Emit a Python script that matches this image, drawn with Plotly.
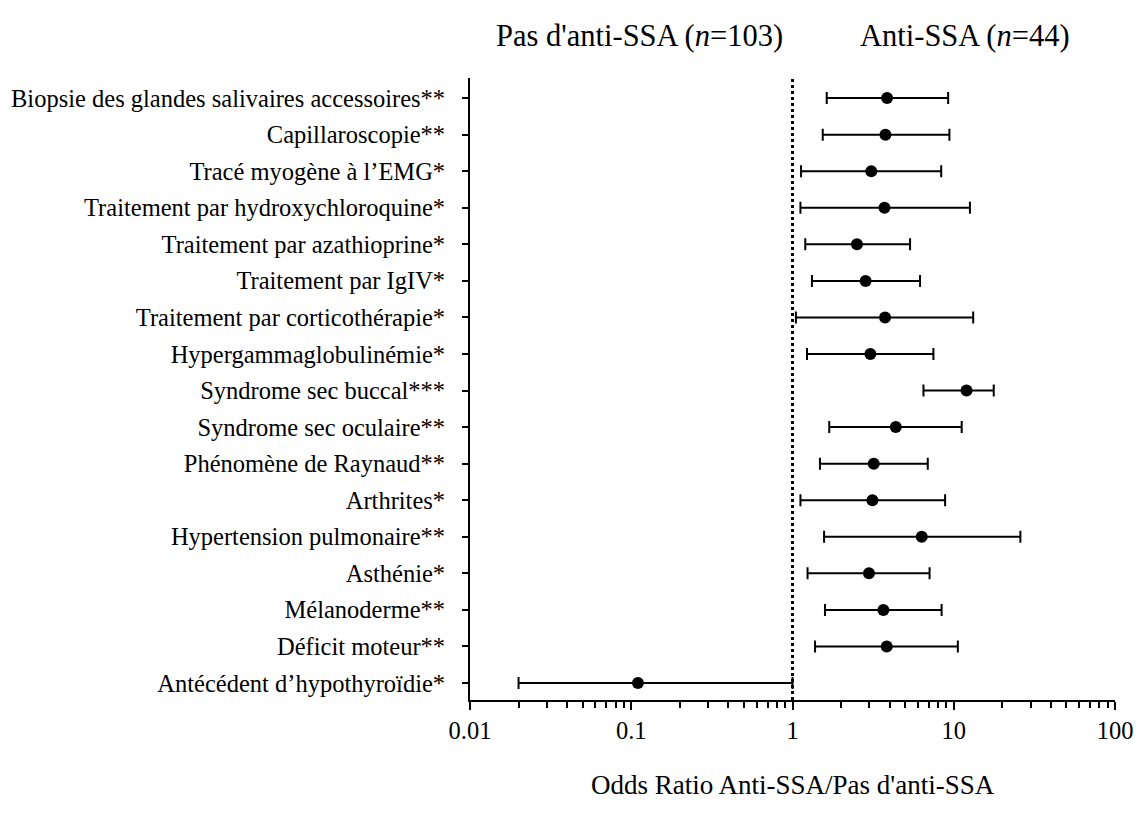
import plotly.graph_objects as go

# données (odds ratio et IC 95 %)
labels = [
    "Biopsie des glandes salivaires accessoires**",
    "Capillaroscopie**",
    "Tracé myogène à l’EMG*",
    "Traitement par hydroxychloroquine*",
    "Traitement par azathioprine*",
    "Traitement par IgIV*",
    "Traitement par corticothérapie*",
    "Hypergammaglobulinémie*",
    "Syndrome sec buccal***",
    "Syndrome sec oculaire**",
    "Phénomène de Raynaud**",
    "Arthrites*",
    "Hypertension pulmonaire**",
    "Asthénie*",
    "Mélanoderme**",
    "Déficit moteur**",
    "Antécédent d’hypothyroïdie*",
]
odds = [3.86, 3.77, 3.08, 3.72, 2.51, 2.84, 3.75, 3.04, 12.0, 4.37, 3.19, 3.13, 6.33, 2.98, 3.66, 3.84, 0.11]
ci_low = [1.63, 1.54, 1.13, 1.12, 1.20, 1.32, 1.05, 1.23, 6.49, 1.69, 1.48, 1.12, 1.57, 1.24, 1.59, 1.38, 0.02]
ci_high = [9.23, 9.40, 8.36, 12.6, 5.36, 6.18, 13.2, 7.48, 17.7, 11.2, 6.90, 8.84, 25.9, 7.08, 8.41, 10.6, 1.0]

tick_vals = [0.01, 0.1, 1, 10, 100]
tick_text = ["0.01", "0.1", "1", "10", "100"]

FONT = "Liberation Serif, Times New Roman, serif"

n = len(labels)
ypos = list(range(n, 0, -1))

fig = go.Figure()
fig.add_trace(go.Scatter(
    x=odds, y=ypos, mode="markers",
    marker=dict(color="black", size=12),
    error_x=dict(type="data", symmetric=False,
                 array=[h - o for h, o in zip(ci_high, odds)],
                 arrayminus=[o - l for o, l in zip(odds, ci_low)],
                 color="black", thickness=2, width=6),
    showlegend=False,
))

# ligne verticale OR = 1
fig.add_shape(type="line", x0=1, x1=1, xref="x", y0=0, y1=1, yref="paper",
              line=dict(color="black", width=3, dash="dot"))

# la page a une marge de 8 px : figure un peu plus petite que la fenêtre
fig.update_layout(
    width=1135, height=799,
    margin=dict(l=462, r=28, t=70, b=107),
    plot_bgcolor="white", paper_bgcolor="white",
    font=dict(family=FONT, size=24.5, color="black"),
    xaxis=dict(type="log", range=[-2, 2], tickvals=tick_vals, ticktext=tick_text,
               automargin=False,
               showgrid=False, zeroline=False, showline=True, linecolor="black", linewidth=2,
               ticks="outside", ticklen=8, tickwidth=1.5, tickcolor="black",
               tickfont=dict(size=24.5), ticklabelstandoff=0,
               minor=dict(ticks="outside", ticklen=6, tickwidth=1.5, tickcolor="black",
                          dtick="D1", showgrid=False)),
    yaxis=dict(range=[0.535, n + 0.55], tickvals=ypos, ticktext=labels,
               automargin=False,
               showgrid=False, zeroline=False, showline=True, linecolor="black", linewidth=2,
               ticks="outside", ticklen=6, tickwidth=1.5, tickcolor="black",
               ticklabelstandoff=12, tickfont=dict(size=24.5)),
)

fig.add_annotation(x=0.263, y=1, xref="paper", yref="paper", xanchor="center", yanchor="middle",
                   yshift=42, showarrow=False,
                   text="Pas d'anti-SSA (<i>n</i>=103)", font=dict(size=30.5))
fig.add_annotation(x=0.768, y=1, xref="paper", yref="paper", xanchor="center", yanchor="middle",
                   yshift=42, showarrow=False,
                   text="Anti-SSA (<i>n</i>=44)", font=dict(size=30.5))
fig.add_annotation(x=0.5, y=0, xref="paper", yref="paper", xanchor="center", yanchor="middle",
                   yshift=-85, showarrow=False,
                   text="Odds Ratio Anti-SSA/Pas d'anti-SSA", font=dict(size=27))

fig.write_html("out.html")
